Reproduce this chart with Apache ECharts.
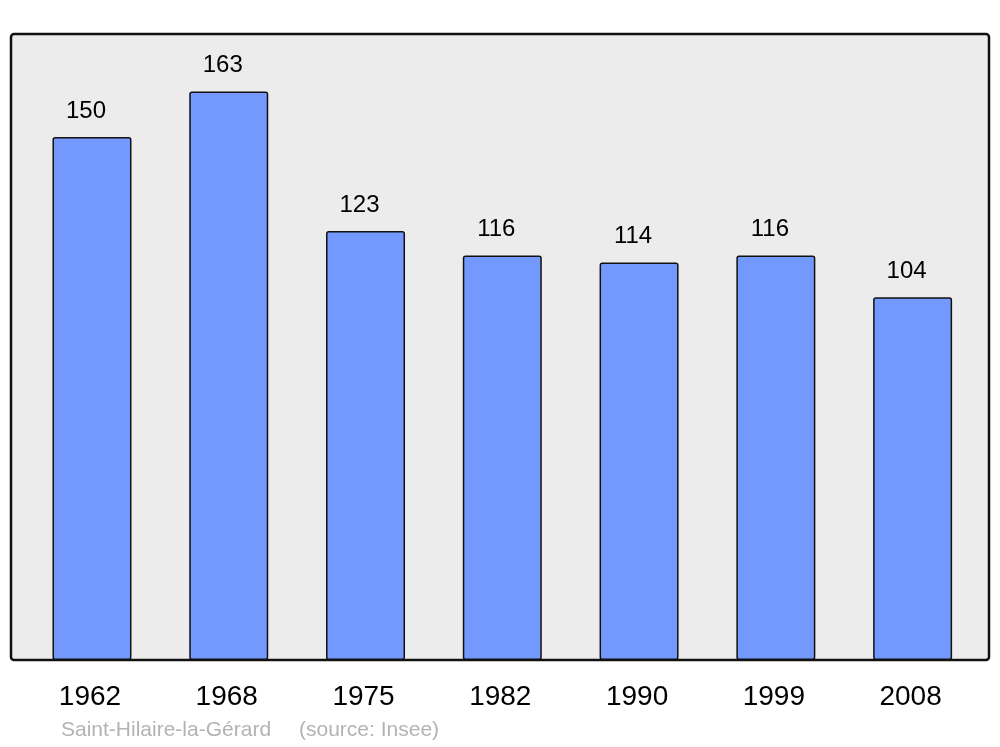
<!DOCTYPE html>
<html>
<head>
<meta charset="utf-8">
<script src="https://cdn.jsdelivr.net/npm/echarts@6/dist/echarts.min.js"></script>
<style>
html,body{margin:0;padding:0;background:#fff;}
#chart{width:1000px;height:747px;}
</style>
</head>
<body>
<div id="chart"></div>
<script>
const years = ['1962', '1968', '1975', '1982', '1990', '1999', '2008'];
const population = [150, 163, 123, 116, 114, 116, 104];
const commune = 'Saint-Hilaire-la-Gérard';
const source = '(source: Insee)';

const chart = echarts.init(document.getElementById('chart'), null, {renderer: 'canvas'});
chart.setOption({
  animation: false,
  backgroundColor: '#ffffff',
  grid: {left: 23.6, right: 19, top: 34, bottom: 87, containLabel: false},
  xAxis: {
    type: 'category',
    data: years,
    axisLine: {show: false},
    axisTick: {show: false},
    axisLabel: {color: '#000', fontSize: 28, fontFamily: 'Liberation Sans', margin: 23, padding: [0, 4, 0, 0]}
  },
  yAxis: {
    type: 'value',
    min: 0,
    max: 179.5,
    show: false,
    splitLine: {show: false}
  },
  graphic: [
    {
      type: 'rect',
      z: -10,
      shape: {x: 11, y: 34, width: 978, height: 626, r: 3},
      style: {fill: '#ececec', stroke: '#111', lineWidth: 2.5}
    },
    {
      type: 'text',
      left: 61, top: 720,
      style: {text: commune, fill: '#b3b3b3', font: '21px "Liberation Sans"'}
    },
    {
      type: 'text',
      left: 299, top: 720,
      style: {text: source, fill: '#b3b3b3', font: '21px "Liberation Sans"'}
    }
  ],
  series: [{
    type: 'bar',
    data: population,
    barWidth: 79,
    itemStyle: {color: '#7399ff', borderColor: '#111', borderWidth: 1.5, borderRadius: 2},
    label: {
      show: true,
      position: 'top',
      distance: 14,
      offset: [-6, 0],
      color: '#000',
      fontSize: 24,
      fontFamily: 'Liberation Sans'
    }
  }]
});
</script>
</body>
</html>
